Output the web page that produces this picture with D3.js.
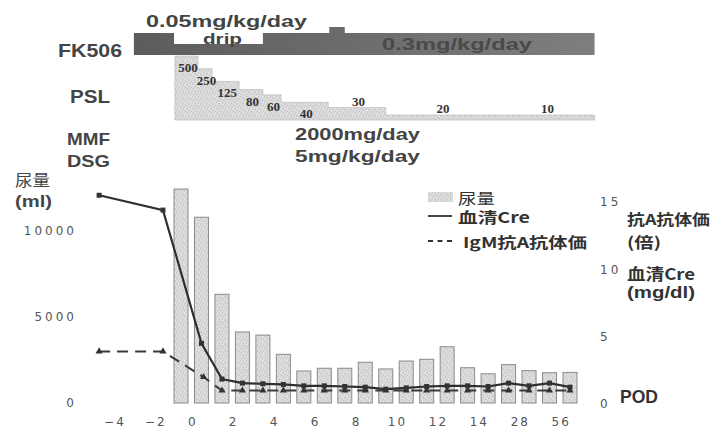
<!DOCTYPE html>
<html>
<head>
<meta charset="utf-8">
<script src="https://cdn.jsdelivr.net/npm/d3@7"></script>
<style>
  body { margin: 0; background: #fff; }
  text { font-family: "Liberation Sans", Arial, sans-serif; }
  .cjk { font-family: "Noto Sans CJK JP", sans-serif; }
  .tick text { font-family: "DejaVu Sans", sans-serif; }
</style>
</head>
<body>
<div class="chart"></div>
<script>

// 尿量 (ml), one bar per slot
var urine = [12440, 10800, 6320, 4130, 3950, 2830, 1860, 2020, 2020, 2370,
             1980, 2440, 2540, 3270, 2050, 1700, 2230, 1880, 1760, 1780];

// 血清Cre (mg/dl)
var creSlots = [-4, -0.88, 1, 2, 3, 4, 5, 6, 7, 8, 9, 10, 11, 12, 13, 14, 15, 16, 17, 18, 19];
var creValues = [15.5, 14.4, 4.5, 1.85, 1.55, 1.5, 1.45, 1.35, 1.35, 1.3, 1.25,
                 1.1, 1.2, 1.3, 1.35, 1.35, 1.3, 1.55, 1.35, 1.55, 1.25];

// IgM 抗A抗体価
var igmSlots = [-4, -0.88, 1.1, 2, 3, 4, 5, 6, 7, 8, 9, 10, 11, 12, 13, 14, 15, 16, 17, 18, 19];
var igmValues = [3.9, 3.9, 2.0, 1.0, 1.0, 1.0, 1.0, 1.0, 1.0, 1.0, 1.0,
                 1.0, 1.0, 1.0, 1.0, 1.0, 1.0, 1.0, 1.0, 1.0, 1.0];

// POD labels
var podLabels = ["\u22124", "\u22122", "0", "2", "4", "6", "8", "10", "12", "14", "28", "56"];
var podSlots = [-3.3, -1.3, 0.5, 2.5, 4.5, 6.5, 8.5, 10.5, 12.5, 14.5, 16.5, 18.5];

var leftTicks = [0, 5000, 10000];
var rightTicks = [0, 5, 10, 15];

// FK506 schedule (start slot, dose level), ends at fkEnd
var fkStarts = [-2.3, -0.34, 4.0, 7.24, 8.0];
var fkLevels = [2, 1, 2, 3, 2];
var fkEnd = 20.2;

// PSL taper (start slot, mg)
var pslStarts = [-0.3, 0.83, 1.52, 2.84, 4.0, 4.89, 7.19, 10.0, 15.45];
var pslDoses = [500, 250, 125, 80, 60, 40, 30, 20, 10];
var pslEnd = 20.2;

var svgWidth = 715;
var svgHeight = 432;

var svg = d3.select(".chart")
    .append("svg")
    .attr("width", svgWidth)
    .attr("height", svgHeight);

var defs = svg.append("defs");

var pat = defs.append("pattern")
    .attr("id", "stip")
    .attr("width", 6)
    .attr("height", 6)
    .attr("patternUnits", "userSpaceOnUse");
pat.append("rect").attr("width", 6).attr("height", 6).attr("fill", "#dadada");
[[0, 0], [3, 1], [5, 3], [1, 4], [4, 5], [2, 2]].forEach(function (p) {
    pat.append("rect").attr("x", p[0]).attr("y", p[1]).attr("width", 1).attr("height", 1).attr("fill", "#c2c2c2");
});
[[4, 0], [1, 2], [5, 5]].forEach(function (p) {
    pat.append("rect").attr("x", p[0]).attr("y", p[1]).attr("width", 1).attr("height", 1).attr("fill", "#ececec");
});

var grad = defs.append("linearGradient")
    .attr("id", "fkgrad")
    .attr("x1", "0%").attr("x2", "100%");
grad.append("stop").attr("offset", "0%").attr("stop-color", "#5c5c5c");
grad.append("stop").attr("offset", "100%").attr("stop-color", "#7e7e7e");

var x = d3.scaleLinear().domain([0, 19]).range([181, 570]);
var yLeft = d3.scaleLinear().domain([0, 10000]).range([403, 231]);
var yRight = d3.scaleLinear().domain([0, 15]).range([404, 202]);
var barWidth = 14;

// top panel: FK506 and PSL step bands
var fkTop = d3.scaleLinear().domain([1, 2, 3]).range([44, 33, 27]);
var fkData = fkStarts.map(function (s, i) { return { s: s, lv: fkLevels[i] }; });
fkData.push({ s: fkEnd, lv: fkLevels[fkLevels.length - 1] });

svg.append("path")
    .datum(fkData)
    .attr("fill", "url(#fkgrad)")
    .attr("d", d3.area()
        .curve(d3.curveStepAfter)
        .x(d => x(d.s))
        .y0(55)
        .y1(d => fkTop(d.lv)));

var pslH = d3.scaleLog().domain([20, 500]).range([5, 64]).clamp(true);
var pslBottom = 120;
var pslData = pslStarts.map(function (s, i) { return { s: s, dose: pslDoses[i], end: pslStarts[i + 1] || pslEnd }; });

svg.append("path")
    .datum(pslData.concat([{ s: pslEnd, dose: 10 }]))
    .attr("fill", "url(#stip)")
    .attr("stroke", "#b5b5b5")
    .attr("stroke-width", 0.6)
    .attr("d", d3.area()
        .curve(d3.curveStepAfter)
        .x(d => x(d.s))
        .y0(pslBottom)
        .y1(d => pslBottom - pslH(d.dose)));

svg.selectAll(".psl-label")
    .data(pslData)
    .enter()
    .append("text")
    .attr("class", "psl-label")
    .attr("x", d => (x(d.s) + x(d.end)) / 2 + 1.5)
    .attr("y", function (d) {
        var top = pslBottom - pslH(d.dose);
        return pslH(d.dose) > 15 ? top + 16 : top - 2;
    })
    .attr("text-anchor", "middle")
    .style("font-family", "'Liberation Serif', 'Times New Roman', serif")
    .style("font-weight", "bold")
    .style("font-size", "13px")
    .attr("fill", "#333")
    .text(d => d.dose);

function label(tx, ty, txt, size, len, color, cls) {
    var t = svg.append("text")
        .attr("x", tx)
        .attr("y", ty)
        .style("font-size", size + "px")
        .style("font-weight", "bold")
        .attr("fill", color || "#444")
        .text(txt);
    if (len) t.attr("textLength", len).attr("lengthAdjust", "spacingAndGlyphs");
    if (cls) t.attr("class", cls);
    return t;
}

label(58, 57, "FK506", 19, 64);
label(146, 27, "0.05mg/kg/day", 17, 161);
label(203, 44, "drip", 15, 39);
label(382, 50, "0.3mg/kg/day", 17, 150, "#4a4a4a");
label(70, 103, "PSL", 18, 40);
label(67, 145, "MMF", 17, 43);
label(67, 167, "DSG", 17, 43);
label(295, 140, "2000mg/day", 17, 125);
label(295, 162, "5mg/kg/day", 17, 125);

// axis titles
label(15, 186, "尿量", 16, 35, "#444", "cjk").style("font-weight", "normal");
label(15, 207, "(ml)", 17, 37);
label(627, 225, "抗A抗体価", 15, 83, "#333", "cjk");
label(627, 248, "(倍)", 15, 34, "#333", "cjk");
label(627, 280, "血清Cre", 16, 68, "#333", "cjk");
label(627, 298, "(mg/dl)", 16, 68, "#333");
label(620, 403, "POD", 18, 38, "#333");

// bars
svg.selectAll(".bar")
    .data(urine)
    .enter()
    .append("rect")
    .attr("class", "bar")
    .attr("x", (d, i) => x(i) - barWidth / 2)
    .attr("y", d => yLeft(d))
    .attr("width", barWidth)
    .attr("height", d => yLeft(0) - yLeft(d))
    .attr("fill", "url(#stip)")
    .attr("stroke", "#8a8a8a")
    .attr("stroke-width", 1);

// IgM dashed line
var igm = igmSlots.map(function (s, i) { return [s, igmValues[i]]; });
svg.append("path")
    .datum(igm)
    .attr("fill", "none")
    .attr("stroke", "#3a3a3a")
    .attr("stroke-width", 2)
    .attr("stroke-dasharray", "11,7")
    .attr("d", d3.line().x(d => x(d[0])).y(d => yRight(d[1])));

svg.selectAll(".tri")
    .data(igm)
    .enter()
    .append("path")
    .attr("class", "tri")
    .attr("transform", d => `translate(${x(d[0])},${yRight(d[1])})`)
    .attr("d", d3.symbol().type(d3.symbolTriangle).size(22))
    .attr("fill", "#333");

// Cre solid line
var cre = creSlots.map(function (s, i) { return [s, creValues[i]]; });
svg.append("path")
    .datum(cre)
    .attr("fill", "none")
    .attr("stroke", "#2e2e2e")
    .attr("stroke-width", 2.2)
    .attr("d", d3.line().x(d => x(d[0])).y(d => yRight(d[1])));

svg.selectAll(".sq")
    .data(cre)
    .enter()
    .append("rect")
    .attr("class", "sq")
    .attr("x", d => x(d[0]) - 2.5)
    .attr("y", d => yRight(d[1]) - 2.5)
    .attr("width", 5)
    .attr("height", 5)
    .attr("fill", "#333");

// axes
var leftAxis = d3.axisLeft(yLeft).tickValues(leftTicks).tickFormat(d3.format("d"))
    .tickSize(0).tickPadding(3);
var gl = svg.append("g").attr("transform", "translate(80,0)").call(leftAxis);

var rightAxis = d3.axisRight(yRight).tickValues(rightTicks).tickSize(0).tickPadding(0);
var gr = svg.append("g").attr("transform", "translate(600,0)").call(rightAxis);

var bottomAxis = d3.axisBottom(x).tickValues(podSlots)
    .tickFormat((d, i) => podLabels[i]).tickSize(0).tickPadding(0);
var gb = svg.append("g").attr("transform", "translate(0,417)").call(bottomAxis);

[gl, gr, gb].forEach(function (g) {
    g.select(".domain").remove();
    g.selectAll("text")
        .style("font-size", "12px")
        .style("letter-spacing", "3px")
        .attr("fill", "#555");
});
gb.selectAll("text").style("letter-spacing", "2px").attr("dx", "1px");

// legend
svg.append("rect")
    .attr("x", 428).attr("y", 192)
    .attr("width", 25).attr("height", 10)
    .attr("fill", "url(#stip)");
svg.append("line")
    .attr("x1", 428).attr("x2", 452)
    .attr("y1", 216).attr("y2", 216)
    .attr("stroke", "#333").attr("stroke-width", 1.8);
svg.append("line")
    .attr("x1", 428).attr("x2", 452)
    .attr("y1", 241).attr("y2", 241)
    .attr("stroke", "#333").attr("stroke-width", 1.8)
    .attr("stroke-dasharray", "5,4.5");

label(458, 204, "尿量", 15, 37, "#333", "cjk").style("font-weight", "normal");
label(458, 223, "血清Cre", 15, 72, "#333", "cjk");
label(463, 248, "IgM抗A抗体価", 15, 124, "#333", "cjk");

</script>
</body>
</html>
